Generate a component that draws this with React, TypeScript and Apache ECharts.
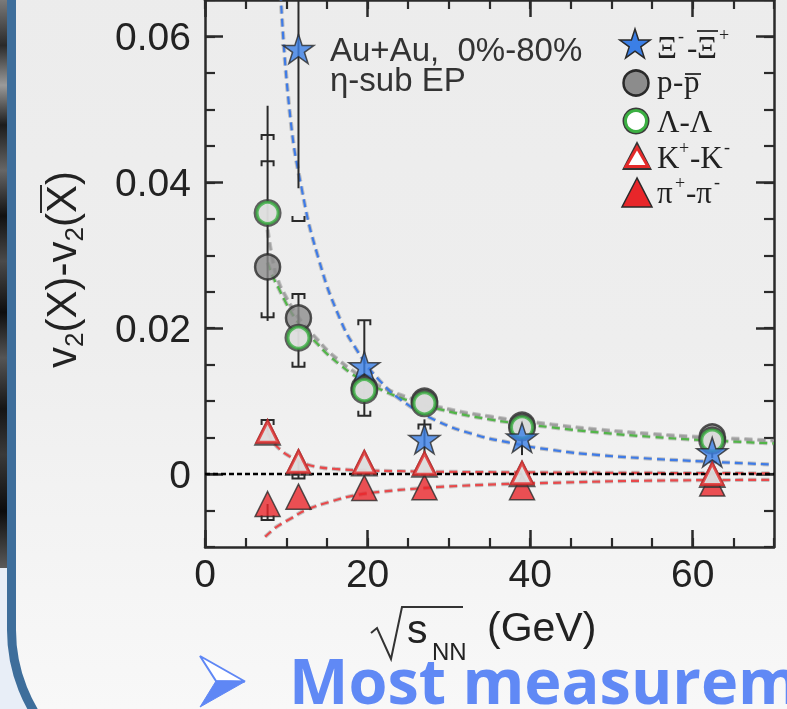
import React, { useEffect, useRef } from "react";
import * as echarts from "echarts";

// ---------------- data ----------------
const energies = [7.7, 11.5, 19.6, 27, 39, 62.4];
const xiEnergies = [11.5, 19.6, 27, 39, 62.4];
const xiDiff = [0.0583, 0.0148, 0.0048, 0.005, 0.003];
const protonDiff = [0.0284, 0.0214, 0.0118, 0.01, 0.0067, 0.0051];
const lambdaDiff = [0.0358, 0.0187, 0.0115, 0.0097, 0.0064, 0.0046];
const kaonDiff = [0.0058, 0.0017, 0.0016, 0.0014, 0.0001, 0.0];
const pionDiff = [-0.0041, -0.0031, -0.0019, -0.0018, -0.0018, -0.0013];

// statistical error bars (vertical lines)
const statX = [7.7, 11.5, 11.5, 19.6, 27, 39, 62.4, 7.7, 7.7, 11.5];
const statLow = [0.021, 0.0392, 0.0147, 0.008, 0.0026, 0.0026, 0.0022, 0.0058, -0.0063, -0.0006];
const statHigh = [0.0505, 0.08, 0.0247, 0.0211, 0.0075, 0.008, 0.006, 0.0074, -0.0041, 0.0017];

// systematic error brackets: 1 = upper bracket, -1 = lower bracket
const sysX = [7.7, 7.7, 7.7, 11.5, 11.5, 11.5, 19.6, 19.6, 27, 7.7, 7.7, 11.5];
const sysY = [0.0465, 0.0429, 0.0215, 0.0347, 0.0247, 0.0147, 0.0211, 0.008, 0.0068, 0.0074, -0.0063, -0.0006];
const sysSide = [1, 1, -1, -1, 1, -1, 1, -1, 1, 1, -1, -1];

// fit curves (dashed)
const xiFitX = [9.3, 10.4, 11.9, 13.9, 16.6, 18.8, 21.5, 24.7, 28.5, 32.9, 37.5, 42.7, 48.5, 55, 62, 70];
const xiFitY = [0.066, 0.0499, 0.0391, 0.0298, 0.0213, 0.0168, 0.0128, 0.0097, 0.0073, 0.0055, 0.0043, 0.0033, 0.0026, 0.0021, 0.0017, 0.0013];
const protonFitX = [7.7, 8.3, 9.0, 10.0, 11.0, 12.3, 13.7, 15.1, 16.6, 18.0, 19.6, 22, 24.7, 28.8, 35, 42.7, 48.5, 55, 60.7, 70];
const protonFitY = [0.0335, 0.0295, 0.0265, 0.0242, 0.0223, 0.0203, 0.0186, 0.0169, 0.0155, 0.0143, 0.0132, 0.0118, 0.0106, 0.0092, 0.0079, 0.0068, 0.0061, 0.0055, 0.0051, 0.0046];
const lambdaFitX = [7.7, 8.3, 9.0, 10.0, 11.0, 12.3, 13.7, 15.1, 16.6, 18.0, 19.6, 22, 24.7, 28.8, 35, 42.7, 48.5, 55, 60.7, 70];
const lambdaFitY = [0.029, 0.0272, 0.0256, 0.0234, 0.0215, 0.0196, 0.018, 0.0164, 0.015, 0.0138, 0.0127, 0.0114, 0.0102, 0.0089, 0.0075, 0.0064, 0.0057, 0.0051, 0.0047, 0.0042];
const kaonFitX = [7.7, 8.4, 9.2, 10.3, 11.5, 12.6, 13.7, 16, 19.6, 24, 30, 45, 70];
const kaonFitY = [0.0057, 0.0044, 0.0034, 0.0025, 0.0018, 0.0013, 0.001, 0.0007, 0.0005, 0.0004, 0.0003, 0.0002, 0.0001];
const pionFitX = [7.4, 8.2, 9.0, 10.4, 12.5, 15.7, 18.5, 21.9, 26, 30, 36, 42.7, 55, 70];
const pionFitY = [-0.0086, -0.0078, -0.0071, -0.0062, -0.0049, -0.0037, -0.0029, -0.0024, -0.002, -0.0017, -0.0014, -0.0012, -0.0009, -0.0008];
const zeroX = [0, 70];
const zeroY = [0, 0];

const xMajorTicks = [0, 20, 40, 60];
const yMajorTicks = [0, 0.02, 0.04, 0.06];

// ---------------- helpers ----------------
const INK = "#2a2a2a";
const zip = (xs: number[], ys: number[]) => xs.map((x, i) => [x, ys[i]]);
const STAR_PATH =
  "path://M50,0L61.23,34.55L97.55,34.55L68.17,55.9L79.39,90.45L50,69.1L20.61,90.45L31.83,55.9L2.45,34.55L38.77,34.55Z";

function starPoints(cx: number, cy: number, R: number) {
  const pts: number[][] = [];
  for (let i = 0; i < 10; i++) {
    const r = i % 2 === 0 ? R : R * 0.382;
    const a = -Math.PI / 2 + (i * Math.PI) / 5;
    pts.push([cx + r * Math.cos(a), cy + r * Math.sin(a)]);
  }
  return pts;
}

function txt(text: string, x: number, baseline: number, size: number, o: any = {}) {
  const family = o.family || "Liberation Sans";
  const k = o.k != null ? o.k : family.indexOf("Serif") >= 0 ? 0.3375 : 0.3465;
  return {
    type: "text",
    x,
    y: baseline - k * size,
    z: 50,
    silent: true,
    style: {
      text,
      fontSize: size,
      fontFamily: family,
      fontWeight: o.weight || "normal",
      fill: o.fill || "#222",
      align: o.align || "left",
      verticalAlign: "middle",
    },
  };
}
const seg = (x1: number, y1: number, x2: number, y2: number, w = 2, stroke = INK) => ({
  type: "line",
  shape: { x1, y1, x2, y2 },
  style: { stroke, lineWidth: w },
  z: 50,
  silent: true,
});
const serif = { family: "Liberation Serif" };

function fitSeries(xs: number[], ys: number[], color: string) {
  const base = {
    type: "line",
    data: zip(xs, ys),
    smooth: 0.5,
    symbol: "none",
    showSymbol: false,
    silent: true,
    clip: true,
    z: 2,
  };
  return [
    { ...base, lineStyle: { color: "rgba(120,120,120,0.4)", width: 4.2, type: [8, 5] } },
    { ...base, lineStyle: { color, width: 2.2, type: [8, 5] } },
  ];
}

function axisPair(kind: "x" | "y", position: string, showLabels: boolean) {
  const isX = kind === "x";
  const common = {
    type: "value",
    min: isX ? 0 : -0.01,
    max: isX ? 70 : 0.065,
    position,
    splitLine: { show: false },
    silent: true,
  };
  const major = {
    ...common,
    axisLine: { show: true, onZero: false, lineStyle: { color: INK, width: 2.5 } },
    axisTick: {
      show: true,
      inside: true,
      length: isX ? 17 : 18,
      lineStyle: { color: INK, width: 2.5 },
      customValues: isX ? xMajorTicks : yMajorTicks,
    },
    axisLabel: showLabels
      ? {
          show: true,
          customValues: isX ? xMajorTicks : yMajorTicks,
          fontSize: 39,
          fontFamily: "Liberation Sans",
          color: "#222",
          margin: isX ? 7 : 14,
          padding: isX ? 0 : [8, 0, 0, 0],
        }
      : { show: false },
  };
  const minor = {
    ...common,
    interval: isX ? 5 : 0.005,
    axisLine: { show: false, onZero: false },
    axisTick: { show: true, inside: true, length: isX ? 9 : 10, lineStyle: { color: INK, width: 2.2 } },
    axisLabel: { show: false },
  };
  return [major, minor];
}

function buildOption() {
  const bgPanel = new echarts.graphic.LinearGradient(0, 0, 0, 1, [
    { offset: 0, color: "#ebebeb" },
    { offset: 0.55, color: "#eeeeee" },
    { offset: 0.8, color: "#f5f5f5" },
    { offset: 1, color: "#fafafa" },
  ]);
  const darkStrip = new echarts.graphic.LinearGradient(0, 0, 0, 1, [
    { offset: 0, color: "#7a7a7a" },
    { offset: 0.08, color: "#2a2a2a" },
    { offset: 0.15, color: "#9a9a9a" },
    { offset: 0.22, color: "#1c1c1c" },
    { offset: 0.3, color: "#666666" },
    { offset: 0.38, color: "#111111" },
    { offset: 0.46, color: "#4a4a4a" },
    { offset: 0.55, color: "#0e0e0e" },
    { offset: 0.63, color: "#555555" },
    { offset: 0.72, color: "#151515" },
    { offset: 0.8, color: "#3a3a3a" },
    { offset: 0.9, color: "#0c0c0c" },
    { offset: 1, color: "#5a5a5a" },
  ]);

  const background = [
    { type: "rect", shape: { x: 0, y: 0, width: 787, height: 709 }, style: { fill: "#e8eef7" }, z: -100, silent: true },
    { type: "rect", shape: { x: 0, y: 0, width: 8, height: 568 }, style: { fill: darkStrip }, z: -99, silent: true },
    {
      type: "rect",
      shape: { x: 11.5, y: -200, width: 1000, height: 989, r: 159 },
      style: { fill: bgPanel, stroke: "#3e6e9b", lineWidth: 9 },
      z: -98,
      silent: true,
    },
  ];

  const annotation = [
    txt("Au+Au,\u00a0 0%-80%", 330, 61, 33, { fill: "#333" }),
    txt("\u03b7-sub EP", 330, 91, 33, { fill: "#333" }),
  ];

  const legend = [
    { type: "polygon", shape: { points: starPoints(635, 45, 16) }, style: { fill: "#3b7fe6", stroke: INK, lineWidth: 1.5 }, z: 50 },
    { type: "circle", shape: { cx: 636, cy: 83, r: 12.5 }, style: { fill: "#8c8c8c", stroke: INK, lineWidth: 2.5 }, z: 50 },
    { type: "circle", shape: { cx: 636, cy: 121, r: 13.5 }, style: { fill: "#3a3a3a" }, z: 50 },
    { type: "circle", shape: { cx: 636, cy: 121, r: 10.5 }, style: { fill: "#fff", stroke: "#3cb043", lineWidth: 3 }, z: 51 },
    { type: "polygon", shape: { points: [[637, 141], [622, 170], [652, 170]] }, style: { fill: "#333" }, z: 50 },
    { type: "polygon", shape: { points: [[637, 147.5], [626, 166.5], [648, 166.5]] }, style: { fill: "#fff", stroke: "#e42a2a", lineWidth: 3 }, z: 51 },
    { type: "polygon", shape: { points: [[637, 178], [622, 207], [652, 207]] }, style: { fill: "#e8262a", stroke: INK, lineWidth: 1.5 }, z: 50 },
    // Xi row
    txt("\u039e", 657, 58, 31, serif),
    txt("-", 678, 42, 18, serif),
    txt("-", 687, 58, 31, serif),
    txt("\u039e", 697, 58, 31, serif),
    seg(697, 31, 718, 31, 1.8),
    txt("+", 719, 41, 18, serif),
    // p row
    txt("p", 657, 92, 31, serif),
    txt("-", 673, 92, 31, serif),
    txt("p", 684, 92, 31, serif),
    seg(685, 74, 701, 74, 1.8),
    // Lambda row
    txt("\u039b-\u039b", 657, 132, 31, serif),
    // K row
    txt("K", 657, 168, 31, serif),
    txt("+", 679, 154, 18, serif),
    txt("-K", 690, 168, 31, serif),
    txt("-", 724, 153, 18, serif),
    // pi row
    txt("\u03c0", 657, 203, 31, serif),
    txt("+", 675, 189, 18, serif),
    txt("-\u03c0", 686, 203, 31, serif),
    txt("-", 714, 188, 18, serif),
  ];

  // y axis title, rotated
  const yTitle = {
    type: "group",
    x: 76,
    y: 368,
    rotation: Math.PI / 2,
    children: [
      txt("v", 0, 0, 42),
      txt("2", 21, 7, 26),
      txt("(X)-v", 35.5, 0, 42),
      txt("2", 126.5, 7, 26),
      txt("(X)", 141, 0, 42),
      { type: "line", shape: { x1: 155, y1: -35, x2: 183, y2: -35 }, style: { stroke: INK, lineWidth: 2 }, z: 50 },
    ],
  };

  const xTitle = [
    {
      type: "polyline",
      shape: { points: [[371, 633], [377, 628], [391, 659], [402, 607], [463, 607]] },
      style: { stroke: "#333", lineWidth: 2, fill: null },
      z: 50,
      silent: true,
    },
    txt("s", 407, 643, 41),
    txt("NN", 432, 660, 24),
    txt("(GeV)", 487, 641, 41),
  ];

  const bottom = [
    {
      type: "polygon",
      shape: { points: [[200, 656], [245, 681.5], [216, 681]] },
      style: { fill: "#ffffff", stroke: "#5f87f5", lineWidth: 2 },
      z: 50,
    },
    {
      type: "polygon",
      shape: { points: [[216, 681], [245, 681.5], [200, 707]] },
      style: { fill: "#5f87f5", stroke: "#5f87f5", lineWidth: 1 },
      z: 50,
    },
    txt("Most measurem", 289, 704, 63, { family: "Open Sans", weight: "bold", fill: "#6089f5", k: 0.388 }),
  ];

  const [xMaj, xMin] = axisPair("x", "bottom", true);
  const [xMajT, xMinT] = axisPair("x", "top", false);
  const [yMaj, yMin] = axisPair("y", "left", true);
  const [yMajR, yMinR] = axisPair("y", "right", false);

  const errorBars = {
    type: "custom",
    silent: true,
    clip: true,
    z: 4,
    data: statX.map((x, i) => [x, statLow[i], statHigh[i]]),
    encode: { x: 0, y: [1, 2] },
    renderItem: (_p: any, api: any) => {
      const a = api.coord([api.value(0), api.value(1)]);
      const b = api.coord([api.value(0), api.value(2)]);
      return {
        type: "line",
        shape: { x1: a[0], y1: a[1], x2: b[0], y2: b[1] },
        style: { stroke: INK, lineWidth: 2 },
      };
    },
  };
  const brackets = {
    type: "custom",
    silent: true,
    clip: true,
    z: 4,
    data: sysX.map((x, i) => [x, sysY[i], sysSide[i]]),
    encode: { x: 0, y: 1 },
    renderItem: (_p: any, api: any) => {
      const c = api.coord([api.value(0), api.value(1)]);
      const h = 5 * api.value(2);
      const w = 6;
      return {
        type: "polyline",
        shape: { points: [[c[0] - w, c[1] + h], [c[0] - w, c[1]], [c[0] + w, c[1]], [c[0] + w, c[1] + h]] },
        style: { stroke: INK, lineWidth: 2, fill: null },
      };
    },
  };

  const scatterBase = { type: "scatter", silent: true, z: 4 };

  return {
    animation: false,
    grid: { left: 205, right: 13, top: -13, bottom: 162, containLabel: false },
    xAxis: [xMaj, xMin, xMajT, xMinT],
    yAxis: [yMaj, yMin, yMajR, yMinR],
    graphic: { elements: [...background, ...annotation, ...legend, yTitle, ...xTitle, ...bottom] },
    series: [
      ...fitSeries(pionFitX, pionFitY, "#e8494b"),
      ...fitSeries(kaonFitX, kaonFitY, "#e8494b"),
      ...fitSeries(protonFitX, protonFitY, "#a0a0a0"),
      ...fitSeries(lambdaFitX, lambdaFitY, "#52b548"),
      ...fitSeries(xiFitX, xiFitY, "#3f7be6"),
      {
        type: "line",
        data: zip(zeroX, zeroY),
        symbol: "none",
        silent: true,
        z: 3,
        lineStyle: { color: "#000", width: 2.6, type: [5, 3] },
      },
      { ...scatterBase, name: "\u03c0+-\u03c0-", data: zip(energies, pionDiff), symbol: "triangle", symbolSize: 25, itemStyle: { color: "#e8262a", borderColor: INK, borderWidth: 1.5 } },
      { ...scatterBase, data: zip(energies, kaonDiff), symbol: "triangle", symbolSize: 28, itemStyle: { color: "#333" } },
      { ...scatterBase, name: "K+-K-", data: zip(energies, kaonDiff), symbol: "triangle", symbolSize: 21, itemStyle: { color: "#fff", borderColor: "#e42a2a", borderWidth: 3 } },
      { ...scatterBase, name: "p-pbar", data: zip(energies, protonDiff), symbol: "circle", symbolSize: 25, itemStyle: { color: "#8c8c8c", borderColor: INK, borderWidth: 2.5 } },
      errorBars,
      brackets,
      { ...scatterBase, data: zip(energies, lambdaDiff), symbol: "circle", symbolSize: 28, itemStyle: { color: "#3a3a3a" } },
      { ...scatterBase, name: "Lambda-Lambdabar", data: zip(energies, lambdaDiff), symbol: "circle", symbolSize: 21, itemStyle: { color: "#fff", borderColor: "#3cb043", borderWidth: 3 } },
      { ...scatterBase, name: "Xi-Xibar", data: zip(xiEnergies, xiDiff), symbol: STAR_PATH, symbolKeepAspect: true, symbolSize: 31, itemStyle: { color: "#3b7fe6", borderColor: INK, borderWidth: 1.5 } },
    ],
  };
}

export default function App() {
  const ref = useRef<HTMLDivElement>(null);
  useEffect(() => {
    if (!ref.current) return;
    const chart = echarts.init(ref.current, undefined, { renderer: "svg" });
    chart.setOption(buildOption() as any);
    return () => chart.dispose();
  }, []);
  return <div ref={ref} style={{ position: "fixed", left: 0, top: 0, width: 787, height: 709 }} />;
}
